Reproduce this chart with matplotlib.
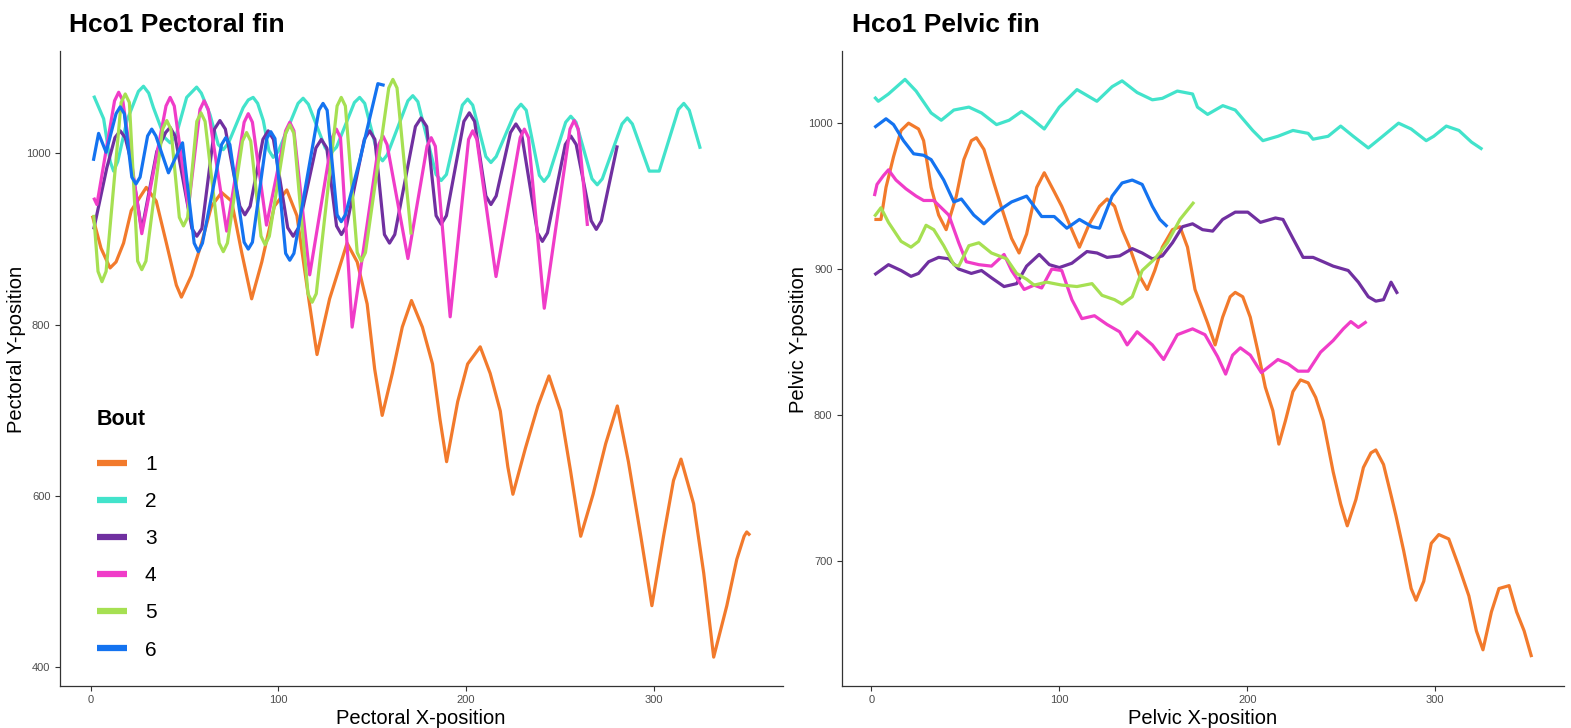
import matplotlib
matplotlib.use("Agg")
import matplotlib.pyplot as plt
from matplotlib.lines import Line2D

plt.rcParams['font.family'] = ['Liberation Sans', 'DejaVu Sans']

# ---------------- data ----------------
bouts = ["1", "2", "3", "4", "5", "6"]
colors = ["#F27A2C", "#42E3CB", "#7030A0", "#F03CC8", "#A6E052", "#1473F0"]

# Pectoral fin
pec_x1 = [1, 5.6, 10.4, 13.6, 17.6, 21.7, 29.7, 35, 40.4, 45.7, 48.4, 53.7, 59.1, 64.4, 69.8, 75.1, 80.5, 85.8, 91.2, 97.9,
          104.5, 109.9, 116.6, 120.6, 127.3, 136.6, 142, 147.3, 151.3, 155.3, 160.7, 166, 170.9, 176.7, 182.1, 186.1, 189.6,
          195.5, 200.8, 207.5, 212.8, 218.2, 222.2, 224.9, 231.6, 238.2, 244.1, 250.3, 255.6, 261, 267.6, 274.3, 280.5,
          286.4, 293, 298.9, 305.1, 310.4, 314.4, 321.1, 326.5, 331.8, 338.8, 344.1, 348, 349.4, 351.2]
pec_y1 = [927, 889, 866, 873, 895, 933, 960, 944, 895, 846, 832, 857, 895, 938, 954, 944, 884, 830, 873, 938,
          957, 927, 824, 765, 830, 895, 873, 824, 748, 694, 743, 797, 828, 797, 754, 689, 640,
          710, 754, 774, 743, 699, 634, 602, 656, 705, 740, 699, 629, 553, 602, 661, 705,
          640, 553, 472, 553, 618, 643, 591, 510, 412, 472, 526, 553, 558, 554]

pec_x2 = [1.7, 7, 10.5, 12.3, 14.5, 19.4, 25.5, 28.2, 31, 33.5, 39.5, 42.4, 45.5, 51.2, 56.5, 59, 63.6, 68, 70.7, 73.5,
          81.3, 84, 86.6, 89, 92, 95, 97.3, 100, 110.5, 113.2, 116, 125, 128, 131, 140.5, 143.3, 146, 153, 155.5, 158,
          169, 171.6, 174.3, 184, 186.7, 189.5, 198, 200.8, 203.5, 210.5, 213.2, 216, 226.5, 229.2, 232, 239, 241.5, 244,
          253, 255.7, 258.5, 267, 269.8, 272.5, 283, 285.8, 288.5, 297.5, 302.8, 313, 315.9, 318.8, 324.7]
pec_y2 = [1067, 1040, 990, 979, 990, 1038, 1072, 1078, 1070, 1053, 1018, 1012, 1020, 1065, 1077, 1070, 1045, 1010, 1004, 1012,
          1053, 1062, 1065, 1058, 1038, 1003, 995, 1002, 1058, 1064, 1057, 1006, 1000, 1007, 1059, 1065, 1058, 998, 991, 998,
          1061, 1067, 1060, 975, 968, 975, 1056, 1063, 1056, 996, 989, 996, 1050, 1057, 1050, 974, 967, 974,
          1036, 1043, 1036, 970, 963, 970, 1034, 1041, 1034, 979, 979, 1051, 1058, 1050, 1005]

pec_x3 = [1.7, 8.7, 13, 15.8, 18.5, 21.1, 27.3, 35.3, 40, 42.4, 45, 54, 56.6, 59.3, 66, 68.9, 71.8, 79.5, 82.2, 85,
          91.8, 94.6, 97.4, 105, 107.9, 110.8, 120, 122.9, 125.8, 131, 133.6, 136.3, 145.8, 148.6, 151.4, 156.5, 159.2, 162,
          173, 176, 179, 184, 186.7, 189.5, 198.8, 201.7, 204.5, 210.5, 213.2, 216, 223.6, 226.5, 229.4, 238, 240.6, 243.3,
          252.8, 255.7, 258.6, 266.6, 269.3, 272, 280.5]
pec_y3 = [911, 983, 1018, 1026, 1018, 995, 910, 1002, 1024, 1030, 1020, 912, 903, 912, 1028, 1038, 1028, 938, 928, 938,
          1016, 1026, 1016, 913, 903, 913, 1006, 1016, 1006, 915, 905, 915, 1016, 1026, 1016, 905, 895, 905,
          1031, 1041, 1031, 927, 917, 927, 1037, 1047, 1037, 950, 940, 950, 1024, 1034, 1024, 907, 897, 907,
          1010, 1020, 1010, 921, 911, 921, 1009]

pec_x4 = [1.7, 3.4, 12.8, 15, 17.2, 27.3, 40.2, 42.4, 44.6, 52.1, 58.3, 60.5, 62.7, 72.5, 81.8, 84, 86.2, 93.7,
          103.9, 106.1, 108.3, 116.7, 128.7, 130.9, 133.1, 139.3, 153.5, 155.7, 157.9, 169, 179.2, 181.4, 183.6, 191.5,
          201.3, 203.5, 205.7, 215.9, 228.8, 231, 233.2, 241.6, 255.3, 257.5, 259.7, 264.6]
pec_y4 = [948, 940, 1061, 1071, 1061, 906, 1055, 1065, 1055, 936, 1051, 1061, 1051, 909, 1036, 1046, 1036, 916,
          1026, 1036, 1026, 858, 1018, 1028, 1018, 797, 1010, 1020, 1010, 877, 1008, 1018, 1008, 809,
          1016, 1026, 1016, 856, 1018, 1028, 1018, 819, 1028, 1038, 1028, 915]

pec_x5 = [1.7, 4, 6.1, 8.3, 16.3, 18.5, 20.7, 25.1, 27.3, 29.5, 38.4, 40.6, 42.8, 47.3, 49.5, 51.7, 56.6, 58.8, 61,
          68.5, 70.7, 72.9, 80.9, 83.1, 85.3, 90.8, 93, 95.2, 103.9, 106.1, 108.3, 115.8, 118, 120.2, 131.3, 133.5, 135.7,
          142, 144.2, 146.4, 158.8, 161, 163.2, 170.7]
pec_y5 = [928, 862, 850, 862, 1059, 1069, 1059, 874, 864, 874, 1028, 1038, 1028, 925, 915, 925, 1037, 1047, 1037,
          895, 885, 895, 1014, 1024, 1014, 903, 893, 903, 1023, 1033, 1023, 836, 826, 836, 1055, 1065, 1055,
          884, 874, 884, 1076, 1086, 1076, 905]

pec_x6 = [1.5, 4.3, 8.3, 13.6, 15.8, 18, 22, 24.2, 26.4, 30.4, 32.6, 34.8, 41.5, 49, 55.2, 57.4, 59.6, 69.8, 72, 74.2,
          81.8, 84, 86.2, 93.8, 96, 98.2, 103.9, 106.1, 108.3, 121.6, 123.8, 126, 131.3, 133.5, 135.7, 143.3, 153, 156.6]
pec_y6 = [991, 1023, 1001, 1046, 1054, 1046, 972, 964, 972, 1020, 1028, 1020, 977, 1012, 895, 885, 895, 1010, 1018, 1010,
          896, 888, 896, 1017, 1025, 1017, 883, 875, 883, 1050, 1058, 1050, 928, 920, 928, 991, 1081, 1079]

# Pelvic fin
pel_x1 = [1.6, 5.1, 7.8, 11.8, 15.8, 19.8, 25.1, 27.8, 31.8, 35.8, 39.8, 45.2, 49.2, 53.2, 55.9, 59.9, 65.2, 69.3,
          74.6, 78.6, 82.6, 88, 92, 97.3, 101.3, 105.3, 110.7, 116, 121.4, 125.4, 129.4, 133.4, 137.4, 142.8, 146.8,
          150.8, 154.8, 160.2, 164.2, 168.2, 172.2, 178.9, 182.9, 186.9, 190.9, 193.6, 197.6, 201.6, 205.6, 209.6,
          213.6, 216.8, 220.3, 224.3, 228.3, 232.4, 236.4, 240.4, 245.7, 249.7, 253.2, 257.8, 261.8, 265.8, 268.4,
          272.5, 276.5, 279.1, 283.2, 287.2, 289.8, 293.9, 297.9, 301.9, 307.2, 312.6, 317.9, 321.9, 325.4, 329.9,
          333.9, 336.6, 339.3, 343.3, 347.3, 351.3]
pel_y1 = [934, 934, 956, 977, 995, 1000, 996, 988, 956, 937, 927, 950, 975, 988, 990, 982, 959, 942,
          921, 911, 924, 956, 966, 953, 943, 931, 915, 931, 943, 948, 943, 927, 915, 895, 886,
          899, 915, 927, 929, 915, 886, 863, 848, 867, 881, 884, 881, 867, 844, 819,
          803, 780, 796, 816, 824, 822, 812, 796, 761, 739, 724, 742, 764, 774, 776,
          766, 745, 731, 707, 681, 673, 686, 712, 718, 715, 696, 676, 652, 639, 665,
          681, 682, 683, 665, 652, 634]

pel_x2 = [1.6, 3.7, 9.1, 17.9, 23.8, 31.8, 37.2, 43.9, 51.9, 58.6, 66.6, 73.3, 79.9, 85.3, 92, 100, 109.4, 113.4,
          120, 128.1, 133.4, 141.4, 149.5, 154.8, 162.8, 170.9, 173.5, 178.9, 187, 193.6, 202.9, 208.3, 216.3,
          224.3, 232.4, 235, 243, 249.7, 256.4, 264.4, 271.1, 280.5, 287.2, 295.2, 299.2, 305.9, 312.6, 319.3, 325.1]
pel_y2 = [1018, 1015, 1020, 1030, 1022, 1007, 1002, 1009, 1011, 1007, 999, 1002, 1008, 1003, 996, 1011, 1023, 1020,
          1015, 1025, 1029, 1021, 1016, 1017, 1022, 1020, 1011, 1006, 1012, 1009, 995, 988, 991,
          995, 993, 989, 991, 998, 991, 983, 990, 1000, 996, 988, 991, 998, 995, 987, 982]

pel_x3 = [1.6, 9.1, 15.8, 21.1, 25.1, 30.5, 35.8, 41.2, 46.5, 53.2, 58.6, 63.9, 70.6, 77.3, 82.6, 89.3, 94.7, 100,
          106.7, 114.7, 120.1, 125.4, 132.1, 138.8, 144.1, 149.5, 154.8, 160.2, 165.5, 170.9, 176.2, 181.6, 186.9,
          193.6, 200.3, 207, 215, 219, 224.3, 229.7, 235, 240.4, 245.7, 253.7, 259.1, 264.4, 268.4, 272.5, 276.5, 280]
pel_y3 = [896, 903, 899, 895, 897, 905, 908, 907, 900, 897, 899, 894, 888, 890, 902, 910, 903, 901,
          904, 912, 911, 908, 909, 914, 911, 907, 909, 918, 929, 931, 927, 926, 934,
          939, 939, 932, 935, 934, 921, 908, 908, 905, 902, 899, 891, 881, 878, 879, 891, 883]

pel_x4 = [1.6, 3, 6.4, 9.1, 13.1, 18.4, 23.8, 27.8, 33.2, 37.2, 41.2, 46.5, 50.5, 57.2, 63.9, 70.6, 74.6, 81.3,
          86.6, 90.6, 96, 101.3, 106.7, 112, 118.7, 125.4, 132.1, 136.1, 141.4, 149.5, 155.5, 162.8, 170.9, 177.5,
          184.2, 188.5, 192.2, 196.3, 201.6, 207.5, 216.3, 221.7, 227, 232.4, 239, 245.7, 251.1, 255.1, 259.1, 263.5]
pel_y4 = [950, 958, 964, 968, 961, 955, 950, 947, 947, 942, 937, 918, 905, 903, 902, 910, 899, 886,
          889, 887, 900, 899, 879, 866, 868, 862, 857, 848, 857, 848, 838, 855, 859, 855,
          840, 828, 841, 846, 841, 829, 838, 835, 830, 830, 843, 851, 859, 864, 860, 864]

pel_x5 = [1.6, 5.1, 9.1, 15.8, 21.1, 25.1, 29.1, 33.2, 38.5, 43.9, 46.5, 51.9, 57.2, 63.9, 72, 77.3, 82.6, 86.6,
          93.3, 101.3, 109.4, 117.4, 122.7, 129.4, 133.4, 138.8, 144.1, 150.8, 157.5, 164.2, 171.7]
pel_y5 = [936, 942, 932, 919, 915, 919, 930, 927, 916, 903, 902, 916, 918, 911, 907, 897, 893, 889,
          891, 889, 888, 890, 882, 879, 876, 881, 899, 907, 918, 934, 946]

pel_x6 = [1.6, 7.8, 11.8, 17.1, 22.5, 27.8, 31.8, 38.5, 43.9, 47.9, 54.5, 59.9, 66.6, 74.6, 82.6, 86.6, 90.6, 97.3,
          104, 110.7, 117.4, 121.4, 128.1, 133.4, 138.8, 144.1, 149.5, 153.5, 157.5]
pel_y6 = [997, 1003, 999, 988, 979, 978, 975, 961, 946, 948, 937, 931, 939, 946, 950, 943, 936, 936,
          928, 934, 929, 928, 950, 959, 961, 958, 943, 934, 929]

pec_ticks_x = [0, 100, 200, 300]
pec_ticks_y = [400, 600, 800, 1000]
pel_ticks_x = [0, 100, 200, 300]
pel_ticks_y = [700, 800, 900, 1000]

pec_series = [(pec_x1, pec_y1), (pec_x2, pec_y2), (pec_x3, pec_y3), (pec_x4, pec_y4), (pec_x5, pec_y5), (pec_x6, pec_y6)]
pel_series = [(pel_x1, pel_y1), (pel_x2, pel_y2), (pel_x3, pel_y3), (pel_x4, pel_y4), (pel_x5, pel_y5), (pel_x6, pel_y6)]

# ---------------- figure ----------------
W, H = 1571, 728
fig = plt.figure(figsize=(W / 100, H / 100), dpi=100)

def frac_box(l, t, r, b):
    return [l / W, 1 - b / H, (r - l) / W, (b - t) / H]

ax1 = fig.add_axes(frac_box(59.5, 50.5, 783, 686))
ax2 = fig.add_axes(frac_box(841.5, 50.5, 1564.5, 686))

def style(ax, xt, yt):
    for s in ["top", "right"]:
        ax.spines[s].set_visible(False)
    for s in ["left", "bottom"]:
        ax.spines[s].set_color("#333333")
        ax.spines[s].set_linewidth(0.9)
    ax.set_xticks(xt)
    ax.set_yticks(yt)
    ax.tick_params(length=3.5, width=0.8, color="#333333", labelsize=8, labelcolor="#4D4D4D", pad=3)
    ax.margins(0.05)

for ax, series in [(ax1, pec_series), (ax2, pel_series)]:
    for (xs, ys), c in zip(series, colors):
        ax.plot(xs, ys, color=c, lw=2.3, solid_joinstyle="round", solid_capstyle="butt")

style(ax1, pec_ticks_x, pec_ticks_y)
style(ax2, pel_ticks_x, pel_ticks_y)

# titles and labels
fig.text(69 / W, 1 - 32 / H, "Hco1 Pectoral fin", fontsize=19, fontweight="bold", ha="left", va="baseline")
fig.text(852 / W, 1 - 32 / H, "Hco1 Pelvic fin", fontsize=19, fontweight="bold", ha="left", va="baseline")
fig.text(421 / W, 1 - 718 / H, "Pectoral X-position", fontsize=14.5, ha="center", va="center")
fig.text(1203 / W, 1 - 718 / H, "Pelvic X-position", fontsize=14.5, ha="center", va="center")
fig.text(17 / W, 1 - 349 / H, "Pectoral Y-position", fontsize=14.5, ha="center", va="center", rotation=90)
fig.text(799 / W, 1 - 340 / H, "Pelvic Y-position", fontsize=14.5, ha="center", va="center", rotation=90)

# legend
handles = [Line2D([0], [0], color=c, lw=4.5, solid_capstyle="butt") for c in colors]
leg = ax1.legend(handles, bouts, title="Bout", loc="upper left",
                 bbox_to_anchor=((97 - 59.5) / (783 - 59.5), (686 - 409) / (686 - 50.5)),
                 frameon=False, fontsize=15, title_fontsize=15.5, handlelength=1.45,
                 handletextpad=0.85, labelspacing=0.87, borderpad=0, borderaxespad=0)
leg.get_title().set_fontweight("bold")
leg._legend_box.align = "left"
leg._legend_box.sep = 18

fig.savefig("out.png", dpi=100)
